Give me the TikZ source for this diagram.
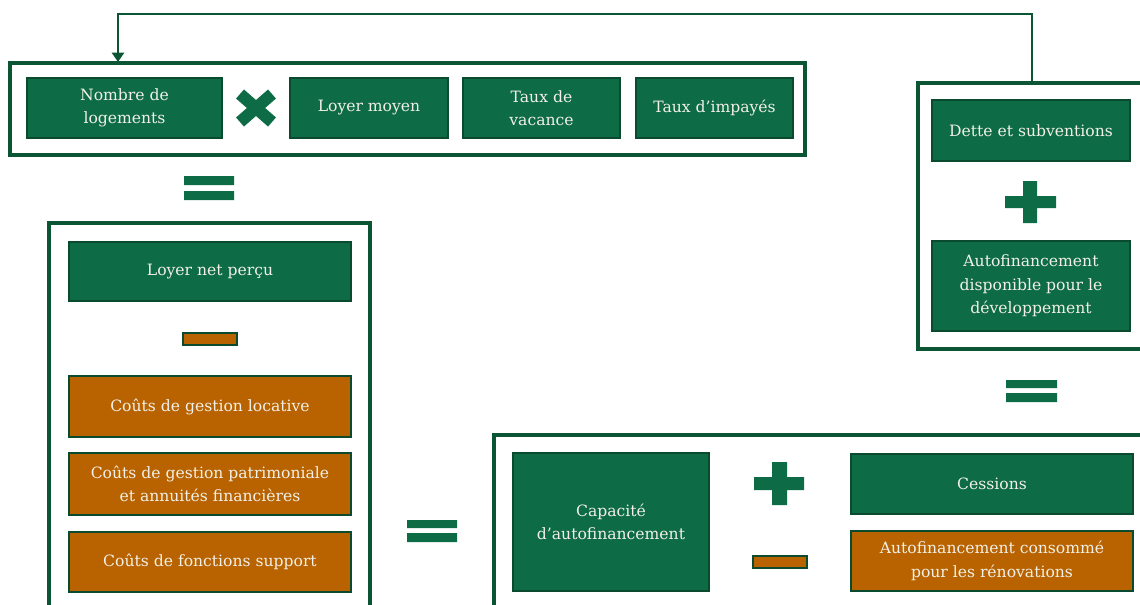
\documentclass[tikz,border=0pt]{standalone}
\usepackage{fontspec}
\setmainfont{DejaVu Serif}
\usetikzlibrary{arrows.meta}

\definecolor{boxgreen}{HTML}{0D6B45}
\definecolor{boxline}{HTML}{0A4A2E}
\definecolor{frameline}{HTML}{0B5535}
\definecolor{boxorange}{HTML}{B86300}
\definecolor{boxtext}{HTML}{F2F0E8}

\tikzset{
  x=0.75pt, y=-0.75pt,
  greenbox/.style 2 args={draw=boxline, line width=1.6pt, fill=boxgreen,
    text=boxtext, align=center, inner sep=0pt,
    minimum width=#1*0.75pt, minimum height=#2*0.75pt,
    font=\fontsize{11.7}{17.5}\selectfont},
  orangebox/.style 2 args={greenbox={#1}{#2}, fill=boxorange},
  frame/.style={draw=frameline, line width=2.6pt},
  sign/.style={fill=boxgreen},
  minussign/.style={fill=boxorange, draw=boxline, line width=1.6pt},
}

\begin{document}
\begin{tikzpicture}
  \useasboundingbox (0,0) rectangle (1140,604);
  \clip (0,0) rectangle (1140,604);
  \fill[white] (0,0) rectangle (1140,604);

  \draw[frame] (10,63) rectangle (805,155);
  \node[greenbox={195}{60}] (nombre) at (124.5,108) {Nombre de\\logements};
  \node[greenbox={158}{60}] (moyen) at (369,108) {Loyer moyen};
  \node[greenbox={157}{60}] (vacance) at (541.5,108) {Taux de\\vacance};
  \node[greenbox={157}{60}] (impayes) at (714.5,108) {Taux d’impayés};
  \draw[boxgreen, line width=9pt] (240,94) -- (272,122) (240,122) -- (272,94);

  \fill[sign] (184,176) rectangle (234,185) (184,191) rectangle (234,200);

  \draw[frame] (49,223) rectangle (370,640);
  \node[greenbox={282}{59}] (loyernet) at (210,271.5) {Loyer net perçu};
  \draw[minussign] (183,333) rectangle (237,345);
  \node[orangebox={282}{61}] (locative) at (210,406.5) {Coûts de gestion locative};
  \node[orangebox={282}{62}] (patrimoine) at (210,484)
    {Coûts de gestion patrimoniale\\et annuités financières};
  \node[orangebox={282}{60}] (support) at (210,562) {Coûts de fonctions support};

  \fill[sign] (407,520) rectangle (457,528) (407,533) rectangle (457,542);

  \draw[frame] (494,435) rectangle (1160,640);
  \node[greenbox={196}{138}] (capacite) at (611,522) {Capacité\\d’autofinancement};
  \fill[sign] (754,477) rectangle (804,490) (772,462) rectangle (787,505);
  \draw[minussign] (753,556) rectangle (807,568);
  \node[greenbox={282}{60}] (cessions) at (992,484) {Cessions};
  \node[orangebox={282}{60}] (consomme) at (992,561)
    {Autofinancement consommé\\pour les rénovations};

  \draw[frame] (918,83) rectangle (1160,349);
  \node[greenbox={198}{61}] (dette) at (1031,130.5) {Dette et subventions};
  \fill[sign] (1005,196) rectangle (1056,208) (1023,181) rectangle (1037,223);
  \node[greenbox={198}{90}] (dispo) at (1031,286)
    {Autofinancement\\disponible pour le\\développement};
  \fill[sign] (1006,380) rectangle (1057,388) (1006,393) rectangle (1057,402);

  \coordinate (loopstart) at (1032,82);
  \coordinate (loopend) at (118,62);
  \draw[frameline, line width=2pt, -{Triangle[width=9pt,length=7pt]}]
    (loopstart) -- ++(0,-68) -| (loopend);
\end{tikzpicture}
\end{document}
